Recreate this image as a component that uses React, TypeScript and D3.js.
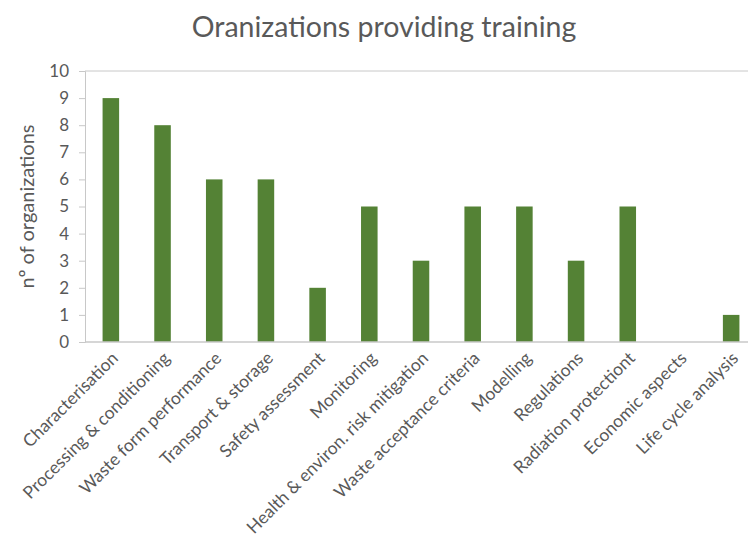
import React, { useEffect, useRef } from "react";
import * as d3 from "d3";

const categories = [
  "Characterisation",
  "Processing & conditioning",
  "Waste form performance",
  "Transport & storage",
  "Safety assessment",
  "Monitoring",
  "Health & environ. risk mitigation",
  "Waste acceptance criteria",
  "Modelling",
  "Regulations",
  "Radiation protectiont",
  "Economic aspects",
  "Life cycle analysis",
];
const counts = [9, 8, 6, 6, 2, 5, 3, 5, 5, 3, 5, 0, 1];
const yTicks = [0, 1, 2, 3, 4, 5, 6, 7, 8, 9, 10];

const App: React.FC = () => {
  const svgRef = useRef<SVGSVGElement>(null);

  useEffect(() => {
    const width = 748;
    const height = 554;
    const font = "Lato, 'Open Sans', sans-serif";
    const textColor = "#595959";

    d3.select(svgRef.current).selectAll("*").remove();
    const svg = d3
      .select(svgRef.current)
      .attr("width", width)
      .attr("height", height)
      .style("position", "absolute")
      .style("left", "0px")
      .style("top", "0px");

    const x = d3
      .scaleBand<string>()
      .domain(categories)
      .range([85, 757])
      .paddingInner(0.68)
      .paddingOuter(0.34);

    const y = d3.scaleLinear().domain([0, 10]).range([342, 71]);

    // title
    svg
      .append("text")
      .attr("x", 384)
      .attr("y", 37)
      .attr("text-anchor", "middle")
      .style("font-family", font)
      .style("font-size", "28.5px")
      .attr("fill", textColor)
      .text("Oranizations providing training");

    // top gridline
    svg
      .append("line")
      .attr("x1", 85)
      .attr("x2", width)
      .attr("y1", y(10))
      .attr("y2", y(10))
      .attr("stroke", "#c8c8c8")
      .attr("stroke-width", 1);

    // y axis
    const yAxis = svg
      .append("g")
      .attr("transform", "translate(85,0)")
      .call(
        d3
          .axisLeft(y)
          .tickValues(yTicks)
          .tickSize(6)
          .tickPadding(10)
          .tickFormat(d3.format("d"))
      );
    yAxis.select(".domain").attr("stroke", "#c8c8c8");
    yAxis.selectAll(".tick line").attr("stroke", "#c8c8c8");
    yAxis
      .selectAll(".tick text")
      .attr("fill", textColor)
      .style("font-family", font)
      .style("font-size", "17px");

    // bars
    svg
      .selectAll("rect.bar")
      .data(counts)
      .join("rect")
      .attr("class", "bar")
      .attr("x", (_, i) => x(categories[i])!)
      .attr("width", x.bandwidth())
      .attr("y", (d) => y(d))
      .attr("height", (d) => y(0) - y(d))
      .attr("fill", "#548235");

    // baseline
    svg
      .append("line")
      .attr("x1", 85)
      .attr("x2", width)
      .attr("y1", y(0))
      .attr("y2", y(0))
      .attr("stroke", "#c8c8c8")
      .attr("stroke-width", 1.5);

    // category labels
    svg
      .selectAll("text.cat")
      .data(categories)
      .join("text")
      .attr("class", "cat")
      .attr(
        "transform",
        (d) => `translate(${x(d)! + x.bandwidth() / 2 + 4},${y(0) + 13}) rotate(-45)`
      )
      .attr("text-anchor", "end")
      .attr("dy", "0.35em")
      .style("font-family", font)
      .style("font-size", "17.5px")
      .attr("fill", textColor)
      .text((d) => d);

    // y axis title
    svg
      .append("text")
      .attr("transform", `translate(34,${(y(0) + y(10)) / 2}) rotate(-90)`)
      .attr("text-anchor", "middle")
      .style("font-family", font)
      .style("font-size", "20px")
      .attr("fill", textColor)
      .text("nº of organizations");
  }, []);

  return <svg ref={svgRef}></svg>;
};

export default App;
